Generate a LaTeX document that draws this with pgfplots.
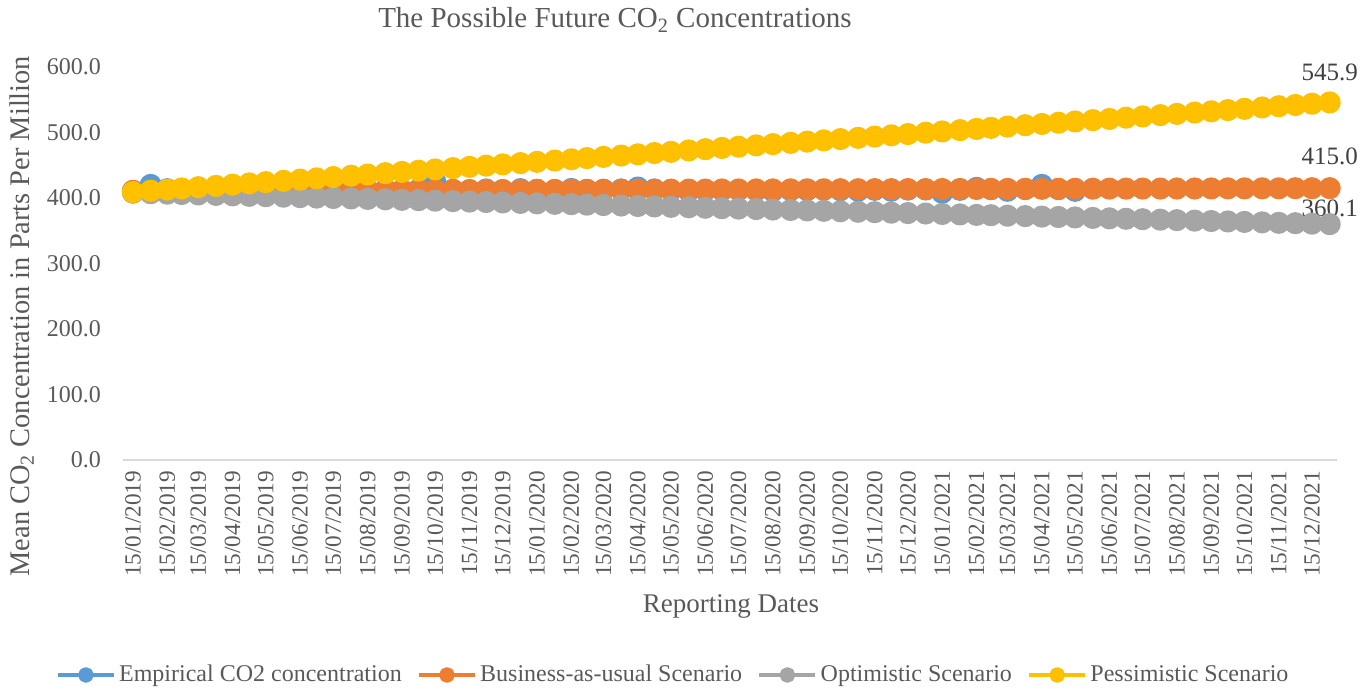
\documentclass[border=0pt]{standalone}
\usepackage{pgfplots}
\pgfplotsset{compat=1.18}
\usepackage{pgfplotstable}
\usepackage{fontspec}
\setmainfont{Liberation Serif}
\definecolor{cblue}{HTML}{5B9BD5}
\definecolor{corange}{HTML}{ED7D31}
\definecolor{cgray}{HTML}{A5A5A5}
\definecolor{cyellow}{HTML}{FFC000}
\definecolor{textgray}{HTML}{595959}
\definecolor{labelgray}{HTML}{404040}
\definecolor{axisgray}{HTML}{D9D9D9}
\pgfplotstableread{
day emp bau opt pes
0 410.5 411.0 408.0 409.0
16 420.0 411.1 407.3 411.0
31 413.5 411.1 406.6 412.9
44 411.5 411.2 406.1 414.6
59 411.0 411.2 405.4 416.5
75 411.8 411.3 404.7 418.5
90 411.5 411.3 404.0 420.4
105 411.8 411.4 403.3 422.3
120 412.5 411.4 402.7 424.2
136 413.0 411.5 402.0 426.2
151 411.8 411.6 401.3 428.1
166 411.5 411.6 400.6 430.0
181 411.5 411.7 400.0 431.9
197 411.2 411.7 399.3 434.0
212 411.5 411.8 398.6 435.8
228 413.0 411.8 397.9 437.9
243 411.5 411.9 397.2 439.8
258 413.0 412.0 396.6 441.7
273 425.0 412.0 395.9 443.6
289 412.5 412.1 395.2 445.6
304 411.8 412.1 394.5 447.5
319 413.0 412.2 393.9 449.4
334 412.0 412.2 393.2 451.3
350 413.5 412.3 392.5 453.3
365 412.5 412.4 391.8 455.2
381 412.0 412.4 391.1 457.2
396 413.8 412.5 390.5 459.1
410 412.3 412.5 389.8 460.9
425 412.5 412.6 389.2 462.8
441 413.0 412.6 388.5 464.8
456 416.0 412.7 387.8 466.7
471 413.0 412.7 387.1 468.6
486 411.5 412.8 386.5 470.5
502 410.8 412.9 385.8 472.6
517 412.0 412.9 385.1 474.5
532 411.8 413.0 384.4 476.4
547 412.0 413.0 383.8 478.3
563 411.5 413.1 383.1 480.3
578 410.8 413.1 382.4 482.2
594 411.8 413.2 381.7 484.2
609 412.0 413.3 381.0 486.1
624 412.5 413.3 380.4 488.0
639 411.8 413.4 379.7 489.9
655 411.0 413.4 379.0 491.9
670 412.5 413.5 378.3 493.8
685 411.0 413.5 377.6 495.7
700 412.8 413.6 377.0 497.6
716 413.0 413.6 376.3 499.7
731 408.0 413.7 375.6 501.6
747 412.5 413.8 374.9 503.6
762 415.5 413.8 374.2 505.5
775 413.5 413.9 373.7 507.1
790 411.0 413.9 373.0 509.0
806 413.5 414.0 372.3 511.1
821 420.0 414.0 371.6 513.0
836 413.5 414.1 371.0 514.9
851 411.0 414.1 370.3 516.8
867 nan 414.2 369.6 518.8
882 nan 414.3 368.9 520.7
897 nan 414.3 368.3 522.6
912 nan 414.4 367.6 524.5
928 nan 414.4 366.9 526.5
943 nan 414.5 366.2 528.4
959 nan 414.5 365.5 530.4
974 nan 414.6 364.8 532.3
989 nan 414.7 364.2 534.2
1004 nan 414.7 363.5 536.1
1020 nan 414.8 362.8 538.2
1035 nan 414.8 362.1 540.1
1050 nan 414.9 361.5 542.0
1065 nan 414.9 360.8 543.9
1081 nan 415.0 360.1 545.9
}\co
\begin{document}
\begin{tikzpicture}
\path[use as bounding box] (-61.5pt,-114.5pt) rectangle (624.5pt,230pt);
\begin{axis}[
  at={(0,0)}, anchor=south west,
  scale only axis, width=607pt, height=196.5pt,
  xmin=-9, xmax=1087.6, ymin=0, ymax=600,
  clip=false,
  axis lines*=left,
  y axis line style={draw=none},
  x axis line style={draw=axisgray, line width=0.75pt},
  major tick length=0pt,
  xtick={0,31,59,90,120,151,181,212,243,273,304,334,365,396,425,456,486,517,547,578,609,639,670,700,731,762,790,821,851,882,912,943,974,1004,1035,1065},
  xticklabels={15/01/2019,15/02/2019,15/03/2019,15/04/2019,15/05/2019,15/06/2019,15/07/2019,15/08/2019,15/09/2019,15/10/2019,15/11/2019,15/12/2019,15/01/2020,15/02/2020,15/03/2020,15/04/2020,15/05/2020,15/06/2020,15/07/2020,15/08/2020,15/09/2020,15/10/2020,15/11/2020,15/12/2020,15/01/2021,15/02/2021,15/03/2021,15/04/2021,15/05/2021,15/06/2021,15/07/2021,15/08/2021,15/09/2021,15/10/2021,15/11/2021,15/12/2021},
  xticklabel style={yshift=-2pt, rotate=90, anchor=east, font=\fontsize{11.6}{13}\selectfont, text=textgray},
  ytick={0,100,200,300,400,500,600},
  yticklabel style={xshift=-7.5pt, font=\fontsize{12}{14}\selectfont, text=textgray,
    /pgf/number format/fixed, /pgf/number format/fixed zerofill,
    /pgf/number format/precision=1, /pgf/number format/assume math mode=true},
  xlabel={Reporting Dates},
  xlabel style={at={(axis description cs:0.5008,-0.3715)}, anchor=center, font=\fontsize{13.5}{15}\selectfont, text=textgray},
  ylabel={Mean CO\textsubscript{2} Concentration in Parts Per Million},
  ylabel style={at={(axis description cs:-0.0832,0.366)}, anchor=center, font=\fontsize{14.2}{16}\selectfont, text=textgray},
  legend columns=4,
  legend cell align=left,
  legend style={at={(0.4535,-0.547)}, anchor=center, draw=none, fill=none,
    font=\fontsize{12}{14}\selectfont, nodes={text=textgray, inner sep=1.5pt},
    /tikz/every even column/.append style={column sep=6pt}},
  legend image code/.code={\draw[mark repeat=2,mark phase=2,#1,mark size=2.8pt] plot coordinates {(0pt,0pt) (14pt,0pt) (28pt,0pt)};},
  every axis plot/.append style={line width=2.25pt, line join=round, mark=*, mark size=4.4pt},
]
\addplot[color=cblue, mark options={solid, fill=cblue, draw=none}] table[x=day,y=emp]{\co};
\addlegendentry{Empirical CO2 concentration}
\addplot[color=corange, mark options={solid, fill=corange, draw=none}] table[x=day,y=bau]{\co};
\addlegendentry{Business-as-usual Scenario}
\addplot[color=cgray, mark options={solid, fill=cgray, draw=none}] table[x=day,y=opt]{\co};
\addlegendentry{Optimistic Scenario}
\addplot[color=cyellow, mark options={solid, fill=cyellow, draw=none}] table[x=day,y=pes]{\co};
\addlegendentry{Pessimistic Scenario}
\node[font=\fontsize{12.5}{14}\selectfont, text=labelgray, yshift=15pt] at (axis cs:1081,545.9) {545.9};
\node[font=\fontsize{12.5}{14}\selectfont, text=labelgray, yshift=16pt] at (axis cs:1081,415.0) {415.0};
\node[font=\fontsize{12.5}{14}\selectfont, text=labelgray, yshift=8pt] at (axis cs:1081,360.1) {360.1};
\end{axis}
\node[font=\fontsize{14.5}{16}\selectfont, text=textgray] at (246pt,220pt) {The Possible Future CO\textsubscript{2} Concentrations};
\end{tikzpicture}
\end{document}
